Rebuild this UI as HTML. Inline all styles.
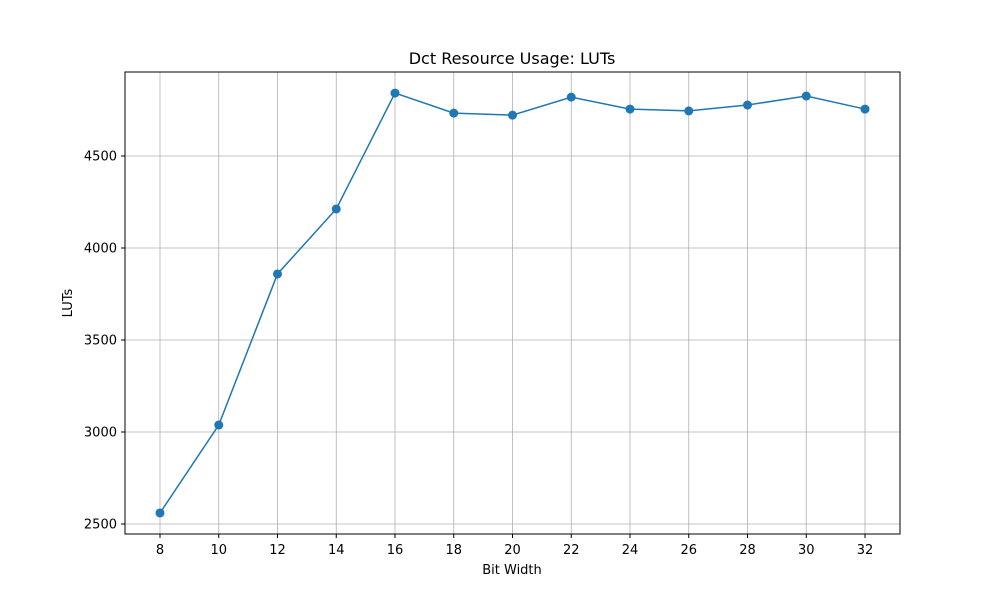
<!DOCTYPE html>
<html><head><meta charset="utf-8"><style>
body{margin:0;background:#fff;}
svg{display:block;font-family:"DejaVu Sans","Liberation Sans",sans-serif;}
</style></head><body>
<svg id="chart" width="1000" height="600">
<text x="512" y="64" text-anchor="middle" font-size="16">Dct Resource Usage: LUTs</text>
<g id="grid"></g><g id="ticks"></g><g id="series"></g>
<rect x="125" y="72" width="775" height="462" fill="none" stroke="#000" stroke-width="1"/>
<text x="512" y="574" text-anchor="middle" font-size="13">Bit Width</text>
<text transform="translate(72,303) rotate(-90)" text-anchor="middle" font-size="13">LUTs</text>
</svg>
<script>
const categories=[8,10,12,14,16,18,20,22,24,26,28,30,32];
const luts=[2560,3038,3859,4212,4842,4733,4722,4820,4755,4745,4777,4826,4755];
const yTicks=[2500,3000,3500,4000,4500];
const xTicks=[8,10,12,14,16,18,20,22,24,26,28,30,32];
const NS="http://www.w3.org/2000/svg";
const xs=v=>160+(v-8)*(705/24);
const ys=v=>524-(v-2500)*(92/500);
function mk(t,a,p){const e=document.createElementNS(NS,t);for(const k in a)e.setAttribute(k,a[k]);p.appendChild(e);return e;}
const grid=document.getElementById('grid'),ticks=document.getElementById('ticks'),ser=document.getElementById('series');
xTicks.forEach(v=>{const x=xs(v);
const g=mk('line',{x1:x,x2:x,y1:72,y2:534,stroke:'#b0b0b0','stroke-width':0.8},grid);


mk('line',{x1:x,x2:x,y1:534,y2:538,stroke:'#000'},ticks);
const t=mk('text',{x:x,y:554,'text-anchor':'middle','font-size':13},ticks);t.textContent=v;

});
yTicks.forEach(v=>{const y=ys(v);
const g=mk('line',{x1:125,x2:900,y1:y,y2:y,stroke:'#b0b0b0','stroke-width':0.8},grid);


mk('line',{x1:121,x2:125,y1:y,y2:y,stroke:'#000'},ticks);
const t=mk('text',{x:117,y:y+4.5,'text-anchor':'end','font-size':13},ticks);t.textContent=v;

});
const pts=categories.map((c,i)=>xs(c)+','+ys(luts[i])).join(' ');
const pl=mk('polyline',{points:pts,fill:'none',stroke:'#1f77b4','stroke-width':1.5},ser);


categories.forEach((c,i)=>{const m=mk('circle',{cx:xs(c),cy:ys(luts[i]),r:4.5,fill:'#1f77b4'},ser);

});
</script>
</body></html>
